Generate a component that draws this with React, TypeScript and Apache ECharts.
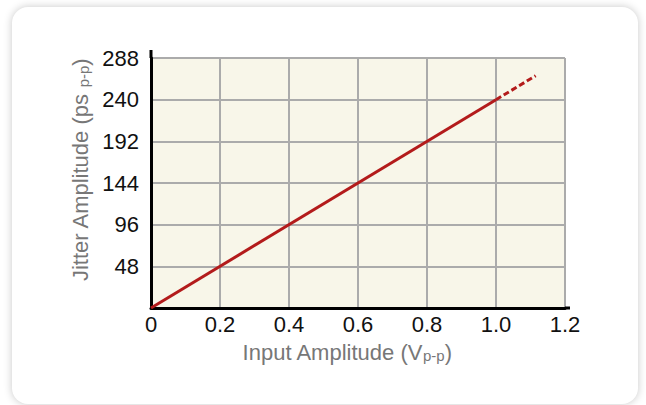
import React, { useEffect, useRef } from "react";
import * as echarts from "echarts";

const solidLine: [number, number][] = [[0, 0], [1.0, 240]];
const dashedLine: [number, number][] = [[1.0, 240], [1.115, 267.6]];
const xTicks = ["0", "0.2", "0.4", "0.6", "0.8", "1.0", "1.2"];
const yTicks = ["", "48", "96", "144", "192", "240", "288"];

const GRID = { left: 151, top: 58, width: 414, height: 250 };

export default function App() {
  const ref = useRef<HTMLDivElement>(null);
  useEffect(() => {
    if (!ref.current) return;
    const chart = echarts.init(ref.current, undefined, { renderer: "svg" });
    const font = "'Liberation Sans', Arial, sans-serif";
    const bottom = GRID.top + GRID.height;
    const right = GRID.left + GRID.width;
    chart.setOption({
      animation: false,
      grid: {
        left: GRID.left,
        top: GRID.top,
        width: GRID.width,
        height: GRID.height,
        show: true,
        backgroundColor: "#f8f6e9",
        borderWidth: 0,
      },
      xAxis: {
        type: "value",
        min: 0,
        max: 1.2,
        interval: 0.2,
        axisLine: { show: true, lineStyle: { color: "#000", width: 3 } },
        axisTick: { show: false },
        axisLabel: {
          margin: 5,
          fontSize: 22,
          fontFamily: font,
          color: "#111",
          formatter: (v: number) => xTicks[Math.round(v / 0.2)] ?? "",
        },
        splitLine: { show: true, lineStyle: { color: "#ababab", width: 2 } },
        name: "Input Amplitude (V{s|p-p})",
        nameLocation: "middle",
        nameGap: 33,
        nameTextStyle: {
          fontSize: 22,
          fontFamily: font,
          color: "#777",
          padding: [0, 22, 0, 0],
          rich: {
            s: { fontSize: 15, fontFamily: font, color: "#777", padding: [7, 0, 0, 0] },
          },
        },
      },
      yAxis: {
        type: "value",
        min: 0,
        max: 288,
        interval: 48,
        axisLine: { show: true, lineStyle: { color: "#000", width: 3 } },
        axisTick: { show: false },
        axisLabel: {
          margin: 12,
          fontSize: 22,
          fontFamily: font,
          color: "#111",
          formatter: (v: number) => yTicks[Math.round(v / 48)] ?? "",
        },
        splitLine: { show: true, lineStyle: { color: "#ababab", width: 2 } },
        name: "Jitter Amplitude (ps {s|p-p})",
        nameLocation: "middle",
        nameRotate: 90,
        nameGap: 58,
        nameTextStyle: {
          fontSize: 22,
          fontFamily: font,
          color: "#777",
          padding: [0, 0, 0, 26],
          rich: {
            s: { fontSize: 15, fontFamily: font, color: "#777", padding: [7, 0, 0, 0] },
          },
        },
      },
      graphic: [
        {
          type: "line",
          shape: { x1: GRID.left, y1: GRID.top - 8, x2: GRID.left, y2: GRID.top },
          style: { stroke: "#000", lineWidth: 3 },
          z: 10,
        },
        {
          type: "line",
          shape: { x1: right, y1: bottom, x2: right + 5, y2: bottom },
          style: { stroke: "#000", lineWidth: 3 },
          z: 10,
        },
      ],
      series: [
        {
          type: "line",
          data: solidLine,
          showSymbol: false,
          lineStyle: { color: "#b31b1b", width: 3 },
          z: 5,
        },
        {
          type: "line",
          data: dashedLine,
          showSymbol: false,
          lineStyle: { color: "#b31b1b", width: 3, type: [6, 3] },
          z: 5,
        },
      ],
    });
    return () => chart.dispose();
  }, []);

  return (
    <div style={{ position: "fixed", left: 0, top: 0, width: 646, height: 405, background: "#fff", overflow: "hidden" }}>
      <div
        style={{
          position: "absolute",
          left: 12,
          top: 7,
          width: 626,
          height: 397,
          background: "#fff",
          borderRadius: 16,
          boxShadow: "0 0 8px rgba(0,0,0,0.22)",
        }}
      />
      <div ref={ref} style={{ position: "absolute", left: 0, top: 0, width: 646, height: 405 }} />
    </div>
  );
}
